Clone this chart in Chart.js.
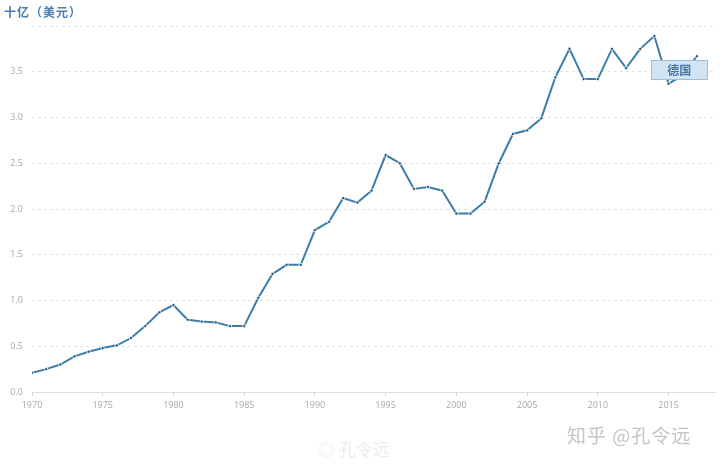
<!DOCTYPE html>
<html>
<head>
<meta charset="utf-8">
<script src="https://cdn.jsdelivr.net/npm/chart.js@4.4.1/dist/chart.umd.min.js"></script>
<style>
  html, body { margin: 0; padding: 0; background: #fff; }
  #wrap { position: relative; width: 720px; height: 465px; }
  canvas { position: absolute; left: 0; top: 0; }
  .ttl { position: absolute; left: 4px; top: 3px; font: bold 12px "Noto Sans CJK SC", sans-serif; color: #4a7dab; letter-spacing: 1px; }
  .wm1 { position: absolute; left: 567px; top: 421px; font: 19px "Noto Sans CJK SC", sans-serif; color: #c4c4c4; letter-spacing: 1px; }
  .wm2 { position: absolute; left: 318px; top: 436px; font: 17px "Noto Sans CJK SC", sans-serif; color: #ececec; }
</style>
</head>
<body>
<div id="wrap">
  <canvas id="c" width="720" height="465"></canvas>
  <div class="ttl">十亿（美元）</div>
  <div class="wm2">◎ 孔令远</div>
  <div class="wm1">知乎 @孔令远</div>
</div>
<script>
const years = [1970,1971,1972,1973,1974,1975,1976,1977,1978,1979,1980,1981,1982,1983,1984,1985,1986,1987,1988,1989,1990,1991,1992,1993,1994,1995,1996,1997,1998,1999,2000,2001,2002,2003,2004,2005,2006,2007,2008,2009,2010,2011,2012,2013,2014,2015,2016,2017];
const germany = [0.21,0.25,0.30,0.39,0.44,0.48,0.51,0.59,0.72,0.87,0.95,0.79,0.77,0.76,0.72,0.72,1.03,1.29,1.39,1.39,1.77,1.86,2.12,2.07,2.20,2.59,2.50,2.22,2.24,2.20,1.95,1.95,2.08,2.50,2.82,2.86,2.99,3.44,3.75,3.42,3.42,3.75,3.54,3.75,3.89,3.37,3.46,3.67];
const seriesLabel = '德国';
const yTicks = [0,0.5,1.0,1.5,2.0,2.5,3.0,3.5,4.0];
const xTicks = [1970,1975,1980,1985,1990,1995,2000,2005,2010,2015];

const labelBox = {
  id: 'labelBox',
  afterDatasetsDraw(chart) {
    const {ctx, scales} = chart;
    const cx = scales.x.getPixelForValue(2015.76);
    const cy = scales.y.getPixelForValue(3.52);
    const w = 56, h = 19;
    ctx.save();
    ctx.fillStyle = '#d2e3f1';
    ctx.strokeStyle = '#9cc0dc';
    ctx.lineWidth = 1;
    ctx.fillRect(Math.round(cx - w/2) + 0.5, Math.round(cy - h/2) + 0.5, w, h);
    ctx.strokeRect(Math.round(cx - w/2) + 0.5, Math.round(cy - h/2) + 0.5, w, h);
    ctx.fillStyle = '#4677a6';
    ctx.font = 'bold 12px "Noto Sans CJK SC", sans-serif';
    ctx.textAlign = 'center';
    ctx.textBaseline = 'middle';
    ctx.fillText(seriesLabel, cx, cy + 1);
    ctx.restore();
  }
};

new Chart(document.getElementById('c'), {
  type: 'line',
  data: {
    datasets: [{
      label: seriesLabel,
      data: years.map((y, i) => ({x: y, y: germany[i]})),
      borderColor: '#3b7eab',
      borderWidth: 2,
      pointRadius: 1.6,
      pointBackgroundColor: '#254f72',
      pointBorderColor: '#ffffff',
      pointBorderWidth: 0.8,
      tension: 0,
      fill: false
    }]
  },
  options: {
    responsive: false,
    animation: false,
    layout: { padding: { left: 0, right: 0, top: 26, bottom: 43 } },
    plugins: { legend: { display: false }, tooltip: { enabled: false } },
    scales: {
      x: {
        type: 'linear',
        min: 1970,
        max: 2018.3,
        afterBuildTicks(axis) { axis.ticks = xTicks.map(v => ({value: v})); },
        afterFit(axis) { axis.height = 30; },
        grid: { drawOnChartArea: false, drawTicks: true, tickLength: 4, color: '#d6d6d6' },
        border: { display: true, color: '#dcdcdc', width: 1 },
        ticks: { color: '#a8a8a8', font: { family: 'Open Sans', size: 9 }, padding: 4, maxRotation: 0, autoSkip: false,
                 callback: v => String(v) }
      },
      y: {
        min: 0,
        max: 4.0,
        afterBuildTicks(axis) { axis.ticks = yTicks.map(v => ({value: v})); },
        afterFit(axis) { axis.width = 32; },
        grid: { drawTicks: false, color: ctx => ctx.tick && ctx.tick.value === 0 ? 'rgba(0,0,0,0)' : '#e2e2e2' },
        border: { display: false, dash: [3, 3] },
        ticks: { color: '#a8a8a8', font: { family: 'Open Sans', size: 9 }, padding: 9,
                 callback: v => v >= 4 ? '' : v.toFixed(1) }
      }
    }
  },
  plugins: [labelBox]
});
</script>
</body>
</html>
